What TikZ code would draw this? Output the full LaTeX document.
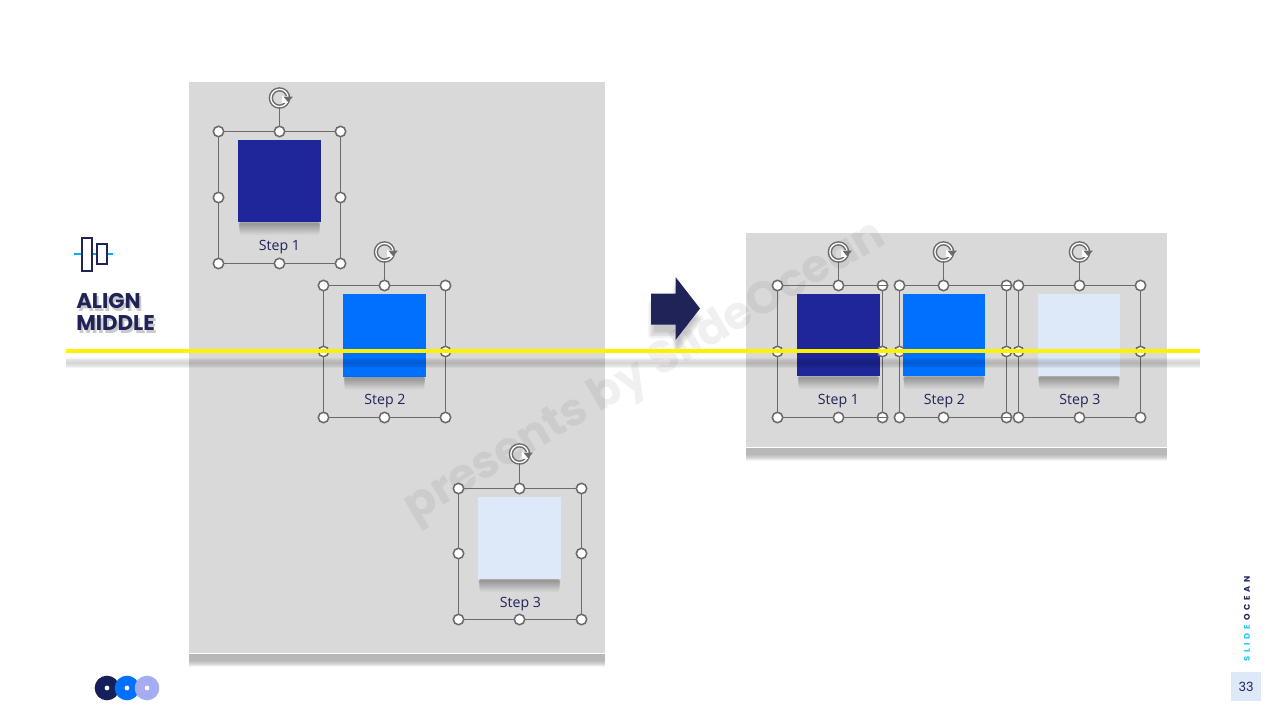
\documentclass[tikz,border=0pt]{standalone}
\usepackage{fontspec}
\setmainfont{Open Sans}
\newfontfamily\headfont{Poppins}
\newfontfamily\brandfont[LetterSpace=42]{Poppins}
\usetikzlibrary{shadows.blur}
\definecolor{navy}{HTML}{1F2358}
\definecolor{panelgray}{HTML}{D9D9D9}
\definecolor{handlegray}{HTML}{6B6B6B}
\definecolor{stepa}{HTML}{1F2798}
\definecolor{stepb}{HTML}{0070FF}
\definecolor{stepc}{HTML}{DDE8F8}
\tikzset{
  panel/.style={draw=white, line width=.9pt, fill=panelgray, inner sep=0pt, outer sep=0pt},
  stepsq/.style={inner sep=0pt, outer sep=0pt, minimum size=62pt},
  steptext/.style={text=navy, font=\fontsize{10.6}{13}\selectfont, inner sep=0pt},
  titletext/.style={anchor=west, inner sep=0pt, text=navy, font=\fontsize{16}{16}\selectfont\headfont\bfseries},
  titleshadow/.style={titletext, text=black!30, text opacity=.7},
  handle/.style={circle, draw=handlegray, fill=white, line width=1.15pt, minimum size=7.8pt, inner sep=0pt},
  rothandle/.style={circle, draw=handlegray, line width=1.1pt, double=white, double distance=1pt, minimum size=13pt, inner sep=0pt},
  selline/.style={draw=handlegray, line width=.8pt},
  dropshade/.style={black, opacity=.04},
  dot/.style={circle, minimum size=18.5pt, inner sep=0pt},
  hole/.style={circle, fill=white, minimum size=3.6pt, inner sep=0pt},
}
\begin{document}
\begin{tikzpicture}[x=.75pt, y=-.75pt]
\useasboundingbox (0,0) rectangle (1280,720);
% panels
\node[panel, minimum width=313.5pt, minimum height=429.75pt] (panelL) at (397,367.5){};
\node[panel, minimum width=317.25pt, minimum height=162pt] (panelR) at (956.5,340){};
\foreach \p in {panelL,panelR}{
  \foreach \d in {5,6,7,7.5,8,8.5,9,10}{
    \fill[dropshade] ([xshift=.5pt]\p.south west) rectangle ([xshift=-.5pt,yshift=-\d pt]\p.south east);
  }
}
% watermark
\node[rotate=30.6, text=black, text opacity=.06, font=\fontsize{34}{34}\selectfont\headfont\bfseries] (mark) at (645,372){presents by SlideOcean};
% icon and title
\coordinate (iconL) at (74,254);
\coordinate (iconR) at (113,254);
\draw[draw={rgb,255:red,0;green,174;blue,239}, line width=1.2pt] (iconL) -- (iconR);
\node[draw=navy, fill=white, line width=1.4pt, minimum width=8pt, minimum height=24.5pt, inner sep=0pt] (iconA) at (87,254.5){};
\node[draw=navy, fill=white, line width=1.4pt, minimum width=7.5pt, minimum height=15pt, inner sep=0pt] (iconB) at (102,254){};
\node[titleshadow] (titleAs) at (78,304){ALIGN};
\node[titleshadow] (titleBs) at (78,326){MIDDLE};
\node[titletext] (titleA) at (76,301){ALIGN};
\node[titletext] (titleB) at (76,323){MIDDLE};
% arrow
\fill[navy, blur shadow={shadow xshift=0pt, shadow yshift=-8pt, shadow opacity=22, shadow blur steps=10, shadow blur radius=3pt}] (651,293.5) -- (675.5,293.5) -- (675.5,277) -- (700,308.5) -- (675.5,340) -- (675.5,324.5) -- (651,324.5) -- cycle;
% left squares
\node[stepsq, fill=stepa] (sqa) at (279.5,181){};
\node[steptext] (labela) at (279.5,247){Step 1};
\node[stepsq, fill=stepb] (sqb) at (384.5,335.5){};
\node[steptext] (labelb) at (385,401){Step 2};
\node[stepsq, fill=stepc] (sqc) at (519.5,538){};
\node[steptext] (labelc) at (520.5,604){Step 3};
% right squares
\node[stepsq, fill=stepa] (sqd) at (838.5,335){};
\node[steptext] (labeld) at (838.5,401){Step 1};
\node[stepsq, fill=stepb] (sqe) at (944,335){};
\node[steptext] (labele) at (944.5,401){Step 2};
\node[stepsq, fill=stepc] (sqf) at (1079,335){};
\node[steptext] (labelf) at (1080,401){Step 3};
% square shadows
\foreach \s in {sqa,sqb,sqc,sqd,sqe,sqf}{
  \foreach \d in {2,3,4,5,6,7,8,9.5}{
    \fill[dropshade, rounded corners=1pt] ([xshift=\d*.12pt]\s.south west) rectangle ([xshift=-\d*.12pt,yshift=-\d pt]\s.south east);
  }
}
% selection one
\node[handle] (a1) at (218.5,131.5){};
\node[handle] (a2) at (279.5,131.5){};
\node[handle] (a3) at (340.5,131.5){};
\node[handle] (a4) at (218.5,197.5){};
\node[handle] (a5) at (340.5,197.5){};
\node[handle] (a6) at (218.5,263.5){};
\node[handle] (a7) at (279.5,263.5){};
\node[handle] (a8) at (340.5,263.5){};
\node[rothandle] (rota) at (279.5,98){};
\draw[selline] (a1) -- (a2) -- (a3) -- (a5) -- (a8) -- (a7) -- (a6) -- (a4) -- (a1);
\draw[selline] (a2) -- (rota);
% selection two
\node[handle] (b1) at (323.5,285.5){};
\node[handle] (b2) at (384.5,285.5){};
\node[handle] (b3) at (445.5,285.5){};
\node[handle] (b4) at (323.5,351.5){};
\node[handle] (b5) at (445.5,351.5){};
\node[handle] (b6) at (323.5,417.5){};
\node[handle] (b7) at (384.5,417.5){};
\node[handle] (b8) at (445.5,417.5){};
\node[rothandle] (rotb) at (384.5,252){};
\draw[selline] (b1) -- (b2) -- (b3) -- (b5) -- (b8) -- (b7) -- (b6) -- (b4) -- (b1);
\draw[selline] (b2) -- (rotb);
% selection three
\node[handle] (c1) at (458.5,488.5){};
\node[handle] (c2) at (519.5,488.5){};
\node[handle] (c3) at (581.5,488.5){};
\node[handle] (c4) at (458.5,553.5){};
\node[handle] (c5) at (581.5,553.5){};
\node[handle] (c6) at (458.5,619.5){};
\node[handle] (c7) at (519.5,619.5){};
\node[handle] (c8) at (581.5,619.5){};
\node[rothandle] (rotc) at (519.5,454){};
\draw[selline] (c1) -- (c2) -- (c3) -- (c5) -- (c8) -- (c7) -- (c6) -- (c4) -- (c1);
\draw[selline] (c2) -- (rotc);
% selection four
\node[handle] (d1) at (777.5,285.5){};
\node[handle] (d2) at (838.5,285.5){};
\node[handle] (d3) at (882.5,285.5){};
\node[handle] (d4) at (777.5,351.5){};
\node[handle] (d5) at (882.5,351.5){};
\node[handle] (d6) at (777.5,417.5){};
\node[handle] (d7) at (838.5,417.5){};
\node[handle] (d8) at (882.5,417.5){};
\node[rothandle] (rotd) at (838.5,252){};
\draw[selline] (d1) -- (d2) -- (d3) -- (d5) -- (d8) -- (d7) -- (d6) -- (d4) -- (d1);
\draw[selline] (d2) -- (rotd);
\draw[selline] (d3.west) -- (d3.east);
\draw[selline] (d8.west) -- (d8.east);
% selection five
\node[handle] (e1) at (899.5,285.5){};
\node[handle] (e2) at (943.5,285.5){};
\node[handle] (e3) at (1006.5,285.5){};
\node[handle] (e4) at (899.5,351.5){};
\node[handle] (e5) at (1006.5,351.5){};
\node[handle] (e6) at (899.5,417.5){};
\node[handle] (e7) at (943.5,417.5){};
\node[handle] (e8) at (1006.5,417.5){};
\node[rothandle] (rote) at (943.5,252){};
\draw[selline] (e1) -- (e2) -- (e3) -- (e5) -- (e8) -- (e7) -- (e6) -- (e4) -- (e1);
\draw[selline] (e2) -- (rote);
\draw[selline] (e3.west) -- (e3.east);
\draw[selline] (e8.west) -- (e8.east);
% selection six
\node[handle] (f1) at (1018.5,285.5){};
\node[handle] (f2) at (1079.5,285.5){};
\node[handle] (f3) at (1140.5,285.5){};
\node[handle] (f4) at (1018.5,351.5){};
\node[handle] (f5) at (1140.5,351.5){};
\node[handle] (f6) at (1018.5,417.5){};
\node[handle] (f7) at (1079.5,417.5){};
\node[handle] (f8) at (1140.5,417.5){};
\node[rothandle] (rotf) at (1079.5,252){};
\draw[selline] (f1) -- (f2) -- (f3) -- (f5) -- (f8) -- (f7) -- (f6) -- (f4) -- (f1);
\draw[selline] (f2) -- (rotf);
% rotate arrow tips
\foreach \r in {rota,rotb,rotc,rotd,rote,rotf}{
  \fill[white] ([xshift=2pt,yshift=1.4pt]\r.center) rectangle ([xshift=6.5pt,yshift=-3.6pt]\r.center);
  \fill[handlegray] ([xshift=3pt,yshift=1pt]\r.center) -- ([xshift=10pt,yshift=1pt]\r.center) -- ([xshift=6.5pt,yshift=-3.2pt]\r.center) -- cycle;
}
% yellow line
\coordinate (lineL) at (66,351);
\coordinate (lineR) at (1200,351);
\foreach \w in {8,6,4,2}{
  \draw[black, opacity=.045, line width=\w pt] ([yshift=-9pt]lineL) -- ([yshift=-9pt]lineR);
}
\draw[yellow, line width=3pt] (lineL) -- (lineR);
% footer
\node[dot, fill={rgb,255:red,21;green,32;blue,90}] (dota) at (107,688){};
\node[dot, fill=stepb] (dotb) at (127,688){};
\node[dot, fill={rgb,255:red,165;green,172;blue,242}] (dotc) at (147,688){};
\node[hole] (holea) at (107,688){};
\node[hole] (holeb) at (127,688){};
\node[hole] (holec) at (147,688){};
\node[rotate=90, anchor=west, inner sep=0pt, font=\fontsize{6.2}{7}\selectfont\brandfont\bfseries] (brand) at (1247,661.5){\textcolor[HTML]{1CC8FF}{SLIDE}\ \textcolor{navy}{OCEAN}};
\node[fill=stepc, minimum width=22.5pt, minimum height=22pt, inner sep=0pt, text=navy, font=\fontsize{9.5}{10}\selectfont\headfont] (page) at (1246,686.5){33};
\end{tikzpicture}
\end{document}
